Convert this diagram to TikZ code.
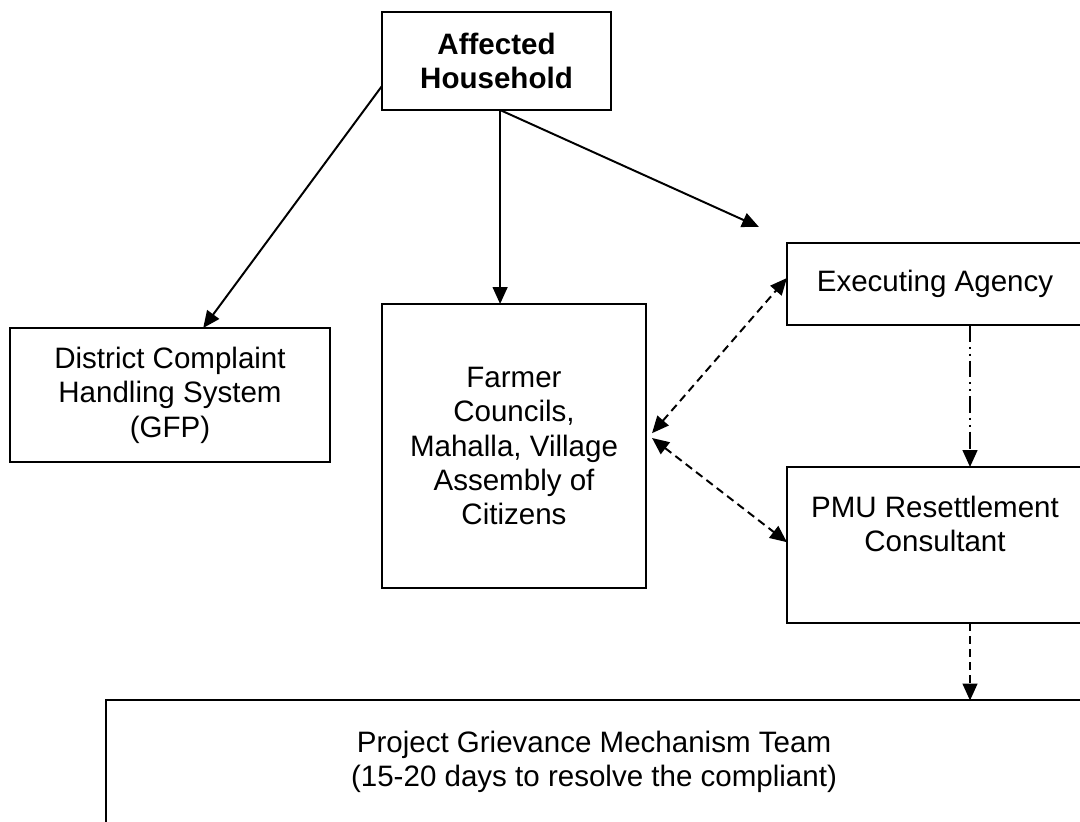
\documentclass[tikz,border=0pt]{standalone}
\usepackage{fontspec}
\setmainfont{Liberation Sans}
\usetikzlibrary{arrows.meta,positioning}

\begin{document}
\begin{tikzpicture}[
		x=0.025cm, y=-0.025cm,
		line width=1.4pt,
		every node/.style = {
			align=center,
			font=\fontsize{21}{24.5}\selectfont,
			outer sep=0cm, inner sep=0cm
		},
		box/.style = {draw, rectangle},
		arr/.style = {-{Triangle[length=12pt,width=10.5pt]}},
		darr/.style = {{Triangle[length=12pt,width=10.5pt]}-{Triangle[length=12pt,width=10.5pt]}, dash pattern=on 5.7pt off 3.6pt},
		]
		\useasboundingbox (0,0) rectangle (1080,822);
		\clip (0,0) rectangle (1080,822);
		% boxes
		\node [box, minimum width=5.725cm, minimum height=2.45cm] (hh) at (496.5,61) {\textbf{Affected}\\\textbf{Household}};
		\node [box, minimum width=8cm, minimum height=3.35cm] (dcs) at (170,395) {District Complaint\\Handling System\\(GFP)};
		\node [box, minimum width=6.6cm, minimum height=7.1cm] (fc) at (514,446) {Farmer\\Councils,\\Mahalla, Village\\Assembly of\\Citizens};
		\node [box, minimum width=7.4cm, minimum height=2.05cm] (ea) at (935,284) {Executing Agency};
		\node [box, minimum width=7.4cm, minimum height=3.9cm] (pmu) at (935,545) {};
		\node (pmut) at (935,524) {PMU Resettlement\\Consultant};
		\node [box, minimum width=24.425cm, minimum height=4.975cm] (pgm) at (594.5,800) {};
		\node (pgmt) at (594,762) {Project Grievance Mechanism Team\\(15-20 days to resolve the compliant)};
		% connectors
		\draw[arr] ([yshift=0.6cm]hh.south west) -- ([xshift=0.83cm]dcs.north);
		\draw[arr] ([xshift=0.09cm]hh.south) -- ([xshift=0.09cm]hh.south |- fc.north);
		\draw[arr] ([xshift=0.09cm]hh.south) -- ([xshift=-0.7cm,yshift=0.4cm]ea.north west);
		\draw[darr] ([xshift=0.15cm,yshift=0.32cm]fc.east) -- ([yshift=0.15cm]ea.west);
		\draw[darr] ([xshift=0.15cm,yshift=0.2cm]fc.east) -- ([yshift=0.07cm]pmu.west);
		\draw[arr, dash pattern=on 12pt off 3.5pt on 1.4pt off 3.5pt on 1.4pt off 3.5pt] ([xshift=0.875cm]ea.south) -- ([xshift=0.875cm]pmu.north);
		\draw[arr, dash pattern=on 5.7pt off 3.6pt] ([xshift=0.875cm]pmu.south) -- ([xshift=0.875cm]pmu.south |- pgm.north);
	\end{tikzpicture}
\end{document}
